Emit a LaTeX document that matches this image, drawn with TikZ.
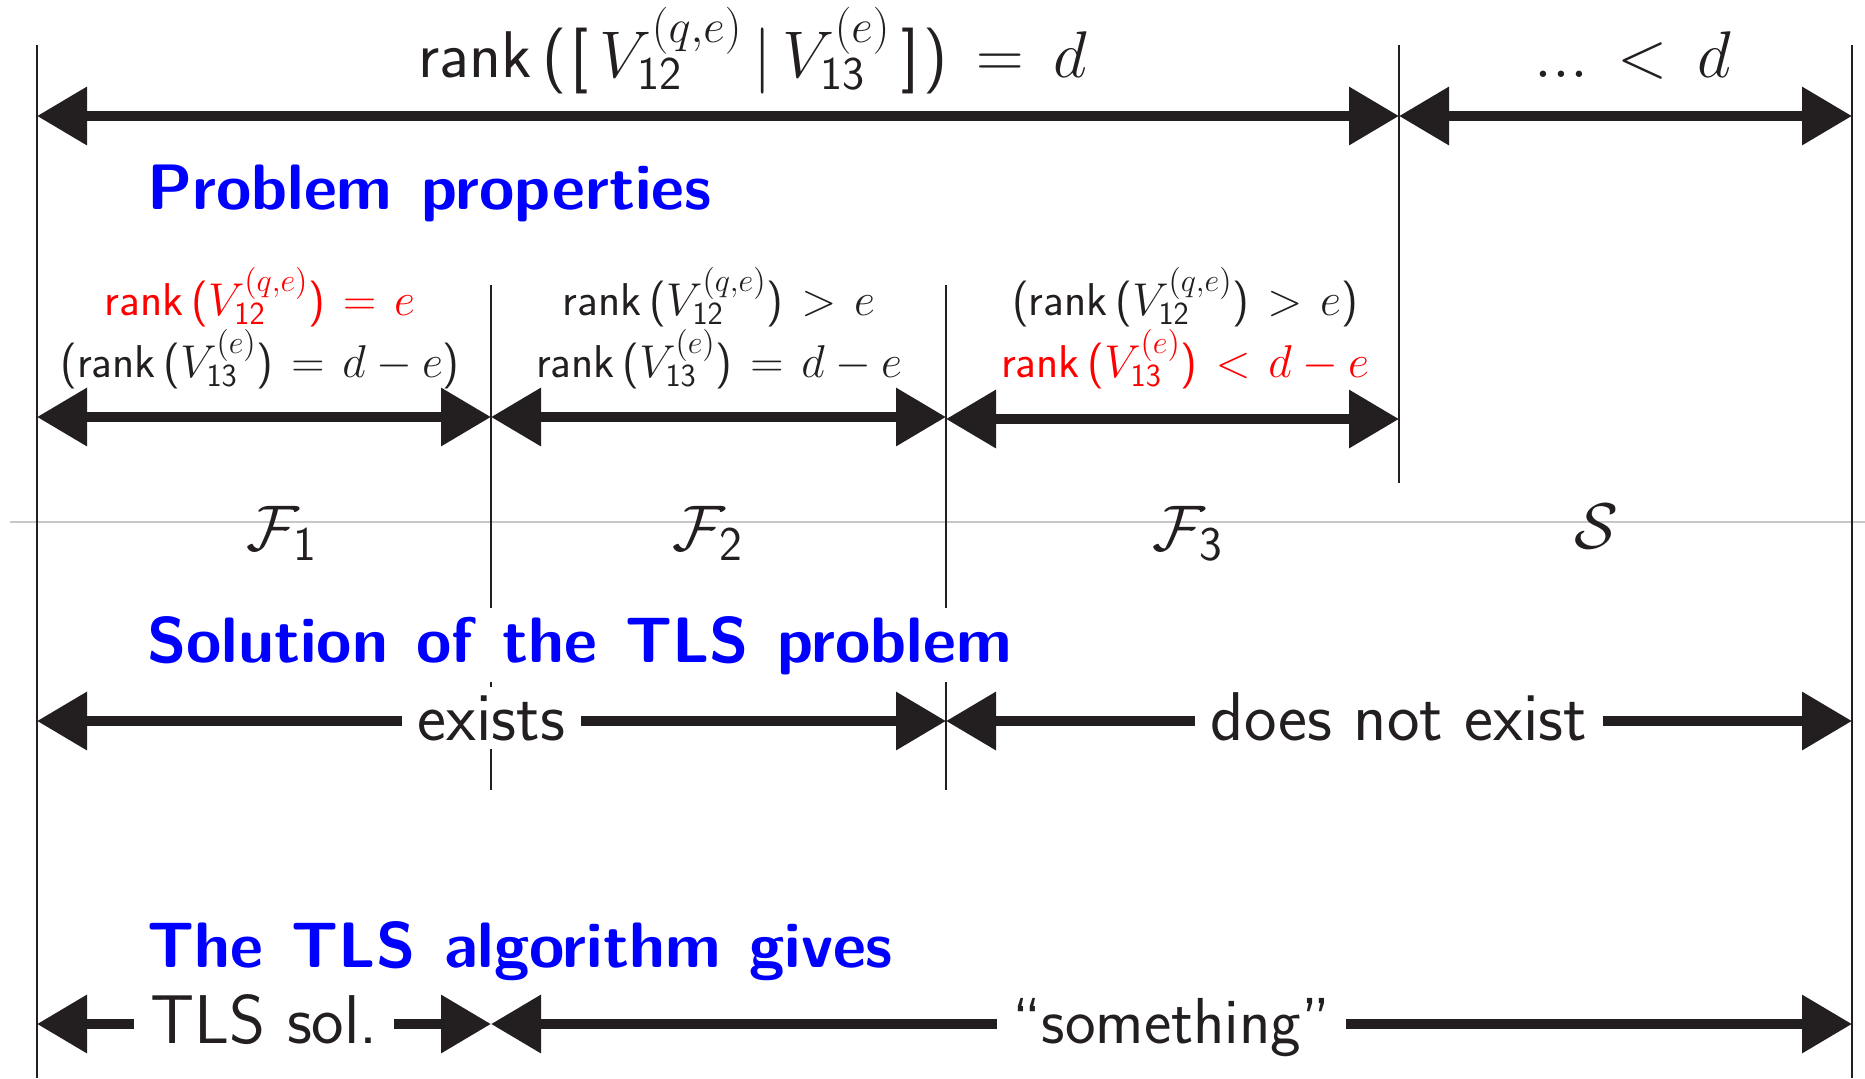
\RequirePackage{fix-cm}
\documentclass[tikz,border=0pt]{standalone}
\usepackage{fontspec}
\usetikzlibrary{arrows.meta}
\DeclareMathSizes{33}{33}{23.5}{17}
\DeclareMathSizes{23}{23}{16.1}{11.5}
\DeclareMathSizes{32.25}{32.25}{24.2}{18}
\definecolor{dark}{RGB}{35,31,32}
\definecolor{hblue}{RGB}{0,0,255}
\definecolor{hred}{RGB}{255,0,0}
\newcommand\myrank[1]{\textsf{rank}\,\textsf{(}#1\textsf{)}}
\newcommand\topmath{\thickmuskip=8mu plus 2mu\relax}
\newcommand\midmath{\thickmuskip=7mu plus 2mu\relax}
\newcommand\headsp{\spaceskip=14.3pt plus 2pt\relax}
\tikzset{
  arr/.style={line width=5pt, draw=dark, {Triangle[length=25pt,width=28pt]}-{Triangle[length=25pt,width=28pt]}},
  vline/.style={line width=1pt, draw=dark},
  heading/.style={anchor=base west, inner sep=4pt, fill=white, text=hblue, font=\sffamily\bfseries\fontsize{32.1}{38}\selectfont\headsp},
  arrlbl/.style={midway, anchor=base, yshift=-9.5pt, fill=white, inner xsep=8pt, inner ysep=4pt, text=dark, font=\sffamily\fontsize{34.5}{40}\selectfont},
  toplbl/.style={anchor=base, inner sep=0pt, text=dark, font=\sffamily\fontsize{33}{39}\selectfont\topmath},
  midlbl/.style={anchor=base, inner sep=0pt, text=dark, font=\sffamily\fontsize{23}{27}\selectfont\midmath},
  setlbl/.style={anchor=base, inner sep=0pt, text=dark, font=\fontsize{32.25}{38}\selectfont},
}
\begin{document}
\begin{tikzpicture}[x=0.5pt,y=-0.5pt]
\useasboundingbox (0,0) rectangle (1865,1078);
% gray separator
\draw[line width=0.8pt, draw=black!22] (10,522) coordinate (gL) -- (1865,522) coordinate (gR);
% vertical lines
\coordinate (v1t) at (37,45);   \coordinate (v1b) at (37,1078);
\coordinate (v5t) at (1852,45); \coordinate (v5b) at (1852,1078);
\coordinate (v4t) at (1399,45); \coordinate (v4b) at (1399,483);
\coordinate (v2t) at (491,285); \coordinate (v2b) at (491,790);
\coordinate (v3t) at (946,285); \coordinate (v3b) at (946,790);
\draw[vline] (v1t) -- (v1b);
\draw[vline] (v5t) -- (v5b);
\draw[vline] (v4t) -- (v4b);
\draw[vline] (v2t) -- (v2b);
\draw[vline] (v3t) -- (v3b);
% headings
\node[heading] (h1) at (139,209) {Problem properties};
\node[heading] (h2) at (139,662) {Solution of the TLS problem};
\node[heading] (h3) at (139,967) {The TLS algorithm gives};
% top row
\coordinate (tA) at (37,116); \coordinate (tB) at (1399,116); \coordinate (tC) at (1852,116);
\draw[arr] (tA) -- (tB);
\draw[arr] (tB) -- (tC);
\node[toplbl] (top1) at (753,77) {rank\,(\kern2pt[\,$V_{\mathsf{12}}^{(q,e)}\,|\,V_{\mathsf{13}}^{(e)}$\,]\kern2pt)${}=d$};
\node[toplbl] (top2) at (1633,77) {$...<d$};
% middle row
\coordinate (mA) at (37,417); \coordinate (mB) at (491,417); \coordinate (mC) at (946,417);
\coordinate (mC3) at (946,419); \coordinate (mD) at (1399,419);
\draw[arr] (mA) -- (mB);
\draw[arr] (mB) -- (mC);
\draw[arr] (mC3) -- (mD);
\node[midlbl, text=hred] (f1a) at (260,315) {$\myrank{V_{\mathsf{12}}^{(q,e)}} = e$};
\node[midlbl] (f1b) at (260,377) {($\myrank{V_{\mathsf{13}}^{(e)}} = d-e$)};
\node[midlbl] (f2a) at (719,315) {$\myrank{V_{\mathsf{12}}^{(q,e)}} > e$};
\node[midlbl] (f2b) at (719,377) {$\myrank{V_{\mathsf{13}}^{(e)}} = d-e$};
\node[midlbl] (f3a) at (1185,315) {($\myrank{V_{\mathsf{12}}^{(q,e)}} > e$)};
\node[midlbl, text=hred] (f3b) at (1185,377) {$\myrank{V_{\mathsf{13}}^{(e)}} < d-e$};
% set labels
\node[setlbl] (F1) at (282,550) {$\mathcal{F}_{\mathsf{1}}$};
\node[setlbl] (F2) at (708,550) {$\mathcal{F}_{\mathsf{2}}$};
\node[setlbl] (F3) at (1188,550) {$\mathcal{F}_{\mathsf{3}}$};
\node[setlbl] (S) at (1596,548) {$\mathcal{S}$};
% solution row
\coordinate (sA) at (37,721); \coordinate (sB) at (946,721); \coordinate (sC) at (1852,721);
\draw[arr] (sA) -- node[arrlbl] (ex) {exists} (sB);
\draw[arr] (sB) -- node[arrlbl] (nex) {does not exist} (sC);
% algorithm row
\coordinate (bA) at (37,1024); \coordinate (bB) at (491,1024); \coordinate (bC) at (1852,1024);
\draw[arr] (bA) -- node[arrlbl] (tls) {TLS sol.} (bB);
\draw[arr] (bB) -- node[arrlbl, font=\sffamily\fontsize{32.5}{38}\selectfont] (sth) {“something”} (bC);
\end{tikzpicture}
\end{document}
